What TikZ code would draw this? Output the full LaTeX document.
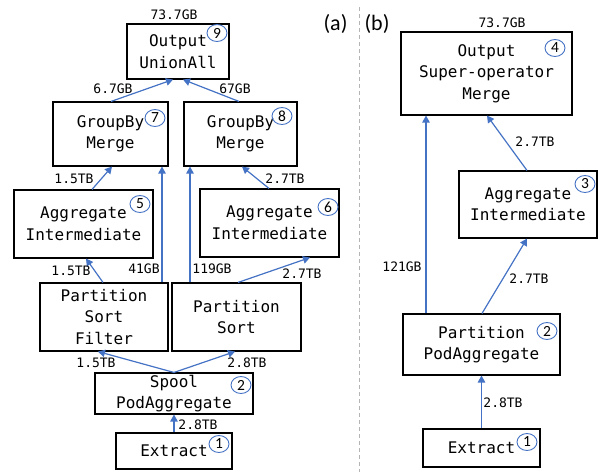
\documentclass[tikz,border=0pt]{standalone}
\usepackage{fontspec}
\setmonofont{DejaVu Sans Mono}
\newfontfamily\numfont{Carlito}
\usetikzlibrary{arrows.meta,shapes.geometric}
\definecolor{flow}{HTML}{4472C4}
\definecolor{sep}{HTML}{B4B4B4}
\newcommand{\boxfont}{\ttfamily\fontsize{16}{21.5}\selectfont}
\newcommand{\lblfont}{\ttfamily\fontsize{13}{15}\selectfont}
\tikzset{
  opbox/.style={draw, line width=1.1pt, align=center, inner sep=0pt, font=\boxfont},
  vol/.style={inner sep=0pt, font=\lblfont},
  stage/.style={draw=flow, line width=0.9pt, ellipse, inner sep=0pt,
                minimum width=20pt, minimum height=17pt, font=\numfont\fontsize{15.5}{15.5}\selectfont},
  flowarrow/.style={draw=flow, line width=1.2pt, -{Triangle[width=7.5pt,length=7pt]}},
  panel/.style={inner sep=0pt, font=\numfont\fontsize{22}{22}\selectfont}
}
\begin{document}
\begin{tikzpicture}[x=1pt,y=-1pt]
\useasboundingbox (0,0) rectangle (598,472);

% ---------- plan (a) ----------
\node[opbox, minimum width=102pt, minimum height=55pt] (out9) at (178,51.5) {Output\\UnionAll};
\node[opbox, minimum width=115pt, minimum height=64pt] (gb7) at (110.5,134) {GroupBy\\Merge};
\node[opbox, minimum width=113pt, minimum height=64pt] (gb8) at (240.5,134) {GroupBy\\Merge};
\node[opbox, minimum width=139pt, minimum height=68pt] (ag5) at (83.5,224) {Aggregate\\Intermediate};
\node[opbox, minimum width=139pt, minimum height=68pt] (ag6) at (269.5,223) {Aggregate\\Intermediate};
\node[opbox, minimum width=128pt, minimum height=68pt] (psf) at (104,317) {Partition\\Sort\\Filter};
\node[opbox, minimum width=129pt, minimum height=68pt] (ps) at (236.5,317) {Partition\\Sort};
\node[opbox, minimum width=158pt, minimum height=41pt] (spool) at (174,393.5) {Spool\\PodAggregate};
\node[opbox, minimum width=116pt, minimum height=36pt] (ext1) at (174,451) {Extract};

\node[stage] (n9) at (217,33) {9};
\node[stage] (n7) at (155,118) {7};
\node[stage] (n8) at (282,116) {8};
\node[stage] (n5) at (140,204) {5};
\node[stage] (n6) at (328,207) {6};
\node[stage] (n2a) at (241,385) {2};
\node[stage] (n1a) at (219,444) {1};

\draw[flowarrow] ([xshift=0.5pt]gb7.north) -- ([xshift=-5pt]out9.south);
\draw[flowarrow] ([xshift=-1.5pt]gb8.north) -- ([xshift=5pt]out9.south);
\draw[flowarrow] ([xshift=8.5pt]ag5.north) -- ([xshift=1.5pt]gb7.south);
\draw[flowarrow] ([xshift=58pt]psf.north) -- ([xshift=51.5pt]gb7.south);
\draw[flowarrow] ([xshift=-46.5pt]ps.north) -- ([xshift=-50.5pt]gb8.south);
\draw[flowarrow] ([xshift=-0.5pt]ag6.north) -- ([xshift=1.5pt]gb8.south);
\draw[flowarrow] ([xshift=-1pt]psf.north) -- ([xshift=2.5pt]ag5.south);
\draw[flowarrow] ([xshift=1.5pt]ps.north) -- ([xshift=40.5pt]ag6.south);
\draw[flowarrow] (spool.north) -- ([xshift=-6pt]psf.south);
\draw[flowarrow] (spool.north) -- ([xshift=-1.5pt]ps.south);
\draw[flowarrow] (ext1.north) -- (spool.south);

\node[vol] (v1) at (174,15) {73.7GB};
\node[vol] (v2) at (113,89) {6.7GB};
\node[vol] (v3) at (235,89) {67GB};
\node[vol] (v4) at (74,179) {1.5TB};
\node[vol] (v5) at (285,179) {2.7TB};
\node[vol] (v6) at (71,271) {1.5TB};
\node[vol] (v7) at (144,269) {41GB};
\node[vol] (v8) at (212,269) {119GB};
\node[vol] (v9) at (302,274) {2.7TB};
\node[vol] (v10) at (96,363) {1.5TB};
\node[vol] (v11) at (247,363) {2.8TB};
\node[vol] (v12) at (198,425) {2.8TB};

\node[panel] (pa) at (335.5,24) {(a)};

% ---------- separator ----------
\coordinate (septop) at (359,7);
\coordinate (sepbot) at (359,472);
\draw[sep, line width=0.9pt, dash pattern=on 4pt off 3pt] (septop) -- (sepbot);

% ---------- plan (b) ----------
\node[panel] (pb) at (377,24) {(b)};

\node[opbox, minimum width=171pt, minimum height=83pt] (outB) at (486.5,73.5) {Output\\Super-operator\\Merge};
\node[opbox, minimum width=138pt, minimum height=67pt] (agB) at (528,204.5) {Aggregate\\Intermediate};
\node[opbox, minimum width=157pt, minimum height=61pt] (partB) at (481.5,344.5) {Partition\\PodAggregate};
\node[opbox, minimum width=117pt, minimum height=38pt] (extB) at (481.5,448) {Extract};

\node[stage] (n4) at (555,48) {4};
\node[stage] (n3) at (585,184) {3};
\node[stage] (n2b) at (547,331) {2};
\node[stage] (n1b) at (527,442) {1};

\draw[flowarrow] ([xshift=-55.5pt]partB.north) -- ([xshift=-60.5pt]outB.south);
\draw[flowarrow] ([xshift=0.5pt]partB.north) -- ([xshift=-1pt]agB.south);
\draw[flowarrow] ([xshift=-1pt]agB.north) -- ([xshift=0.5pt]outB.south);
\draw[flowarrow] (extB.north) -- (partB.south);

\node[vol] (w1) at (502,23) {73.7GB};
\node[vol] (w2) at (535,142) {2.7TB};
\node[vol] (w3) at (402,267) {121GB};
\node[vol] (w4) at (529,279) {2.7TB};
\node[vol] (w5) at (503,403) {2.8TB};
\end{tikzpicture}
\end{document}
